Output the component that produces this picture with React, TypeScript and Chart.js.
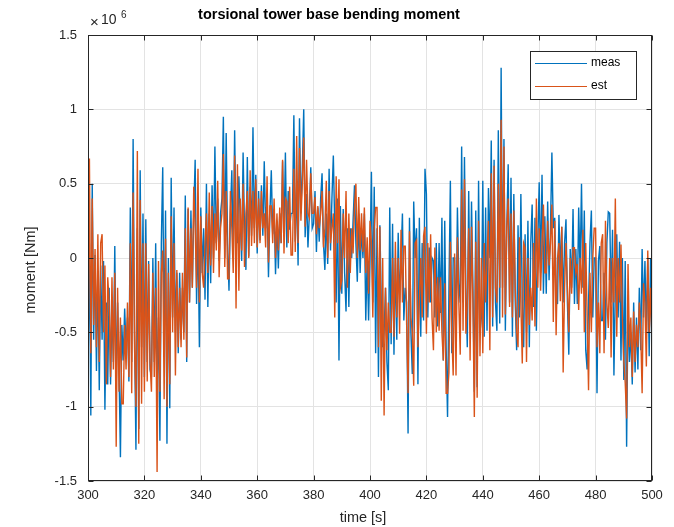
import { useEffect, useRef } from "react";
import { Chart, registerables } from "chart.js";

Chart.register(...registerables);

// time axis: samples every 0.5 s from 300 s to 500 s
const T_START = 300;
const T_STEP = 0.5;

// bending moment, in units of 10^6 Nm
const meas = [
  -0.8, 0.1, -1.06, 0.5, -0.55, 0.02, -0.76, -0.1, -0.89, -0.05,
  -0.55, -0.02, -1.02, -0.3, -0.85, -0.2, -0.85, -0.35, -0.7, 0.08,
  -0.87, -0.3, -0.75, -1.34, -0.45, -0.69, -0.34, -0.6, -0.4, -0.83,
  0.34, -0.7, 0.8, -0.5, -1.29, 0.2, -1.15, 0.59, -0.6, 0.3,
  -0.8, 0.26, -0.7, -0.02, -0.75, -0.8, 0.0, -0.7, 0.1, -0.9,
  -0.4, -1.23, 0.1, 0.61, -0.6, 0.32, -1.25, 0.0, -1.01, 0.54,
  -0.4, 0.34, -0.5, -0.1, -0.64, -0.1, -0.55, -0.2, -0.5, 0.42,
  -0.7, 0.33, -0.3, 0.32, -0.2, 0.3, 0.66, -0.31, 0.2, -0.6,
  0.34, -0.1, 0.2, -0.28, 0.5, -0.33, 0.3, -0.17, 0.49, 0.0,
  0.75, 0.1, 0.4, -0.02, 0.3, 0.4, 0.95, 0.0, 0.84, 0.1,
  -0.22, 0.3, 0.59, 0.0, 0.86, 0.16, 0.1, 0.55, 0.26, -0.02,
  0.71, 0.2, -0.08, 0.68, 0.01, 0.48, 0.15, 0.88, 0.2, 0.56,
  0.03, 0.45, 0.12, 0.49, 0.15, 0.65, 0.2, 0.4, -0.13, 0.3,
  0.59, 0.16, 0.33, -0.11, 0.25, -0.07, 0.3, 0.1, 0.65, 0.15,
  0.71, 0.07, 0.45, 0.19, 0.3, 0.3, 0.96, 0.11, 0.5, -0.05,
  0.94, 0.3, 0.6, 1.0, 0.14, 0.43, 0.07, 0.3, 0.61, 0.2,
  0.23, 0.45, 0.04, 0.34, 0.11, 0.4, 0.57, 0.1, -0.08, 0.3,
  -0.04, 0.6, 0.05, 0.4, 0.69, 0.2, -0.3, 0.4, -0.69, 0.35,
  -0.24, 0.33, -0.1, -0.36, 0.2, -0.33, 0.2, 0.0, 0.25, 0.49,
  0.1, -0.16, 0.3, -0.1, 0.2, 0.0, 0.3, -0.42, 0.0, -0.42,
  0.0, 0.58, -0.3, 0.48, -0.64, 0.2, -0.8, 0.22, -0.3, -0.6,
  -0.5, -0.2, -0.7, -0.89, 0.34, -0.58, 0.23, -0.65, 0.0, -0.55,
  0.17, -0.3, 0.0, 0.3, -0.42, -0.2, -0.3, -1.18, 0.27, -0.5,
  -0.78, 0.38, 0.0, 0.2, -0.85, 0.27, -0.53, 0.1, -0.42, 0.6,
  0.43, -0.4, 0.07, -0.3, 0.0, -0.02, -0.4, 0.1, -0.46, 0.1,
  -0.37, 0.27, -0.69, 0.25, -0.6, -1.07, -0.2, 0.52, -0.64, 0.0,
  0.0, -0.5, 0.34, -0.17, -0.3, 0.75, -0.3, 0.68, -0.2, -0.6,
  0.45, -0.4, 0.38, -0.2, -0.9, 0.32, -0.87, 0.52, -0.5, -0.4,
  0.52, -0.53, 0.34, -0.49, 0.47, 0.0, 0.79, -0.46, 0.66, -0.3,
  -0.49, 0.86, -0.44, 1.28, -0.2, 0.8, -0.49, 0.2, 0.63, -0.3,
  0.54, -0.53, 0.43, -0.3, -0.62, 0.22, -0.4, 0.43, -0.3, -0.6,
  0.16, -0.5, 0.25, -0.6, 0.1, 0.36, -0.33, 0.27, -0.49, 0.1,
  0.51, -0.1, 0.56, -0.24, 0.28, -0.24, 0.38, -0.15, 0.2, 0.71,
  0.2, 0.27, -0.2, -0.31, 0.29, -0.1, 0.21, -0.3, 0.1, 0.26,
  -0.3, -0.65, 0.06, -0.2, 0.33, -0.31, 0.06, -0.31, 0.34, -0.1,
  0.5, -0.2, 0.32, -0.62, -0.75, -0.3, 0.1, 0.32, -0.4, 0.0,
  0.0, -0.91, -0.02, 0.08, -0.42, -0.42, -0.1, -0.55, 0.1, 0.31,
  0.3, -0.3, 0.19, -0.79, -0.2, 0.16, -0.4, 0.11, -0.69, 0.0,
  -0.82, -0.02, -1.27, -0.3, -0.7, -0.5, -0.85, -0.3, -0.77, -0.4,
  -0.75, -0.2, -0.62, 0.06, -0.4, -0.02, -0.51, 0.0, -0.66, 0.0,
  -0.6,
];

const est = [
  -0.7, 0.67, -0.64, 0.4, -0.45, 0.06, -0.6, 0.16, -0.7, 0.1,
  0.16, -0.5, -0.05, -0.85, -0.13, -0.3, -0.8, -0.13, -0.75, -0.1,
  -1.27, -0.2, -0.9, -0.4, -0.98, -0.98, -0.45, -0.75, -0.3, -0.8,
  0.1, -0.91, 0.44, -0.6, -1.0, 0.72, -1.25, 0.39, -0.98, 0.1,
  -0.9, 0.1, -0.83, -0.04, -0.7, -0.9, -0.1, -0.8, -0.2, -1.44,
  -0.02, -0.9, -0.1, 0.05, -0.95, 0.13, -1.0, -0.1, -0.85, 0.28,
  -0.5, 0.1, -0.79, -0.08, -0.6, -0.2, -0.6, -0.1, -0.55, 0.2,
  -0.67, 0.34, -0.3, 0.2, -0.2, 0.48, 0.2, -0.2, 0.6, -0.3,
  0.28, -0.1, -0.2, 0.1, 0.3, -0.1, 0.44, -0.05, 0.35, -0.1,
  0.3, 0.05, 0.52, -0.13, 0.2, 0.3, 0.7, -0.06, 0.45, -0.14,
  -0.14, 0.45, 0.2, -0.1, 0.69, -0.34, 0.63, -0.22, 0.4, 0.05,
  0.5, -0.06, 0.3, 0.45, 0.0, 0.59, 0.08, 0.45, 0.1, 0.53,
  0.07, 0.4, 0.1, 0.45, 0.2, 0.3, 0.07, 0.55, -0.03, 0.35,
  0.35, 0.1, 0.4, 0.0, 0.3, 0.05, 0.34, 0.1, 0.66, 0.03,
  0.4, 0.38, 0.1, 0.48, 0.02, 0.02, 0.6, 0.04, 0.82, 0.1,
  0.74, 0.25, 0.5, 0.81, 0.21, 0.66, 0.3, 0.27, 0.57, 0.3,
  0.3, 0.41, 0.16, 0.35, 0.2, 0.3, 0.45, 0.07, 0.2, 0.52,
  0.0, 0.45, 0.1, 0.2, 0.3, -0.4, 0.55, 0.1, 0.53, -0.2,
  -0.15, 0.3, 0.0, 0.45, -0.2, 0.3, -0.1, 0.2, 0.03, 0.35,
  0.5, 0.0, 0.41, 0.05, 0.3, 0.04, 0.34, -0.1, 0.14, -0.24,
  0.25, 0.1, -0.4, 0.2, 0.34, 0.34, -0.6, 0.21, -0.96, 0.0,
  -1.06, -0.2, -0.62, -0.3, -0.5, -0.5, 0.0, -0.53, 0.11, -0.4,
  0.0, -0.51, 0.19, -0.3, 0.08, 0.08, -0.45, -0.91, 0.18, -0.4,
  -0.5, -0.86, 0.1, 0.12, -0.6, -0.3, 0.0, -0.4, 0.15, 0.21,
  -0.51, 0.1, -0.3, 0.16, -0.4, -0.62, 0.07, -0.5, -0.13, -0.49,
  -0.13, -0.5, -0.69, -0.17, -0.91, -0.91, -0.77, 0.11, -0.5, -0.79,
  0.03, -0.79, 0.14, -0.3, -0.65, 0.46, -0.49, 0.53, -0.51, -0.3,
  0.2, -0.69, 0.21, -0.3, -1.07, 0.11, -0.94, 0.25, -0.66, 0.0,
  -0.64, 0.1, -0.3, 0.0, 0.25, -0.62, 0.57, -0.4, 0.62, -0.2,
  -0.3, 0.5, -0.2, 0.93, -0.4, 0.75, -0.38, 0.2, 0.4, -0.33,
  0.3, -0.4, 0.32, -0.2, -0.5, -0.6, 0.14, -0.3, -0.71, 0.1,
  0.07, -0.7, 0.0, -0.45, -0.2, -0.42, 0.1, -0.46, 0.4, -0.2,
  0.2, -0.22, 0.1, 0.36, -0.1, -0.1, 0.25, -0.05, 0.1, 0.36,
  -0.43, 0.25, -0.52, 0.0, 0.1, -0.29, 0.21, -0.77, -0.2, 0.1,
  -0.2, -0.5, 0.0, -0.24, 0.07, 0.07, -0.1, -0.04, -0.35, 0.0,
  -0.24, 0.19, -0.5, 0.1, -0.4, -0.89, -0.1, -0.5, 0.0, 0.2,
  0.2, -0.6, -0.3, -0.64, 0.1, 0.16, -0.64, 0.25, -0.3, -0.47,
  0.0, -0.67, 0.0, -0.3, 0.4, -0.53, 0.0, -0.3, 0.09, -0.4,
  -0.69, -0.84, -1.08, -0.04, -0.6, -0.4, -0.8, -0.36, -0.7, -0.45,
  -0.6, -0.3, -0.5, -0.91, -0.17, -0.3, -0.73, 0.05, -0.5, -0.2,
  -0.6,
];

const xTicks = [300, 320, 340, 360, 380, 400, 420, 440, 460, 480, 500];
const yTicks = [-1.5, -1, -0.5, 0, 0.5, 1, 1.5];
const seriesNames = ["meas", "est"];
const seriesColors = ["#0072BD", "#D95319"];
const TITLE = "torsional tower base bending moment";
const X_LABEL = "time [s]";
const Y_LABEL = "moment [Nm]";

const FONT = '"Liberation Sans", Arial, Helvetica, sans-serif';
const AXIS_COLOR = "#262626";

const decorPlugin = {
  id: "decor",
  afterDraw(chart: any) {
    const { ctx, chartArea: a, scales } = chart;
    ctx.save();
    ctx.strokeStyle = AXIS_COLOR;
    ctx.lineWidth = 1;
    const line = (x1: number, y1: number, x2: number, y2: number) => {
      ctx.beginPath();
      ctx.moveTo(x1, y1);
      ctx.lineTo(x2, y2);
      ctx.stroke();
    };
    const L = Math.round(a.left) + 0.5;
    const R = Math.round(a.right) - 0.5;
    const T = Math.round(a.top) + 0.5;
    const B = Math.round(a.bottom) - 0.5;
    ctx.strokeRect(L, T, R - L, B - T);
    const tl = 5;
    for (const v of xTicks) {
      const x = Math.round(scales.x.getPixelForValue(v)) + 0.5;
      line(x, B, x, B - tl);
      line(x, T, x, T + tl);
    }
    for (const v of yTicks) {
      const y = Math.round(scales.y.getPixelForValue(v)) + 0.5;
      line(L, y, L + tl, y);
      line(R, y, R - tl, y);
    }

    // title
    ctx.fillStyle = "#000000";
    ctx.textAlign = "center";
    ctx.textBaseline = "middle";
    ctx.font = `bold 14.5px ${FONT}`;
    ctx.fillText(TITLE, 329, 15);

    // exponent
    ctx.fillStyle = AXIS_COLOR;
    ctx.textAlign = "left";
    ctx.font = `15px ${FONT}`;
    ctx.fillText("\u00d7", 90, 23);
    ctx.font = `14px ${FONT}`;
    ctx.fillText("10", 101, 20);
    ctx.font = `10px ${FONT}`;
    ctx.fillText("6", 121, 15);

    // axis labels
    ctx.font = `14.5px ${FONT}`;
    ctx.textAlign = "center";
    ctx.fillText(X_LABEL, 363, 518);
    ctx.save();
    ctx.translate(31, 270);
    ctx.rotate(-Math.PI / 2);
    ctx.fillText(Y_LABEL, 0, 0);
    ctx.restore();

    // legend
    const bx = 530.5, by = 51.5, bw = 106, bh = 48;
    ctx.fillStyle = "#ffffff";
    ctx.fillRect(bx, by, bw, bh);
    ctx.strokeStyle = AXIS_COLOR;
    ctx.lineWidth = 1;
    ctx.strokeRect(bx, by, bw, bh);
    ctx.font = `12px ${FONT}`;
    ctx.textAlign = "left";
    for (let i = 0; i < seriesNames.length; i++) {
      const y = Math.round(by + 11 + i * 23) + 0.5;
      ctx.strokeStyle = seriesColors[i];
      ctx.lineWidth = 1;
      line(535, y, 587, y);
      ctx.fillStyle = "#000000";
      ctx.fillText(seriesNames[i], 591, y - 1);
    }
    ctx.restore();
  },
};

export default function App() {
  const ref = useRef<HTMLCanvasElement | null>(null);
  useEffect(() => {
    if (!ref.current) return;
    const toPts = (arr: number[]) => arr.map((v, i) => ({ x: T_START + i * T_STEP, y: v }));
    const chart = new Chart(ref.current, {
      type: "line",
      data: {
        datasets: [
          {
            label: seriesNames[0],
            data: toPts(meas),
            borderColor: seriesColors[0],
            borderWidth: 1.4,
            pointRadius: 0,
            tension: 0,
            order: 2,
          },
          {
            label: seriesNames[1],
            data: toPts(est),
            borderColor: seriesColors[1],
            borderWidth: 1.4,
            pointRadius: 0,
            tension: 0,
            order: 1,
          },
        ],
      },
      options: {
        responsive: false,
        animation: false,
        devicePixelRatio: 1,
        layout: { padding: { left: 0, right: 22, top: 35, bottom: 0 } },
        plugins: { legend: { display: false }, title: { display: false }, tooltip: { enabled: false } },
        scales: {
          x: {
            type: "linear",
            min: 300,
            max: 500,
            afterFit: (s: any) => {
              s.height = 46;
            },
            afterBuildTicks: (s: any) => {
              s.ticks = xTicks.map((v) => ({ value: v }));
            },
            ticks: {
              color: AXIS_COLOR,
              font: { family: FONT, size: 13 },
              padding: 7,
              maxRotation: 0,
              autoSkip: false,
            },
            grid: { color: "#e3e3e3", drawTicks: false, lineWidth: 1 },
            border: { display: false },
          },
          y: {
            type: "linear",
            min: -1.5,
            max: 1.5,
            afterFit: (s: any) => {
              s.width = 88;
            },
            afterBuildTicks: (s: any) => {
              s.ticks = yTicks.map((v) => ({ value: v }));
            },
            ticks: {
              color: AXIS_COLOR,
              font: { family: FONT, size: 13 },
              padding: 11,
              autoSkip: false,
              callback: (v: any) => String(v),
            },
            grid: { color: "#e3e3e3", drawTicks: false, lineWidth: 1 },
            border: { display: false },
          },
        },
      },
      plugins: [decorPlugin],
    });
    return () => chart.destroy();
  }, []);
  return (
    <div style={{ position: "fixed", left: 0, top: 0, width: 674, height: 527, background: "#fff" }}>
      <canvas ref={ref} width={674} height={527} style={{ width: 674, height: 527, display: "block" }} />
    </div>
  );
}
